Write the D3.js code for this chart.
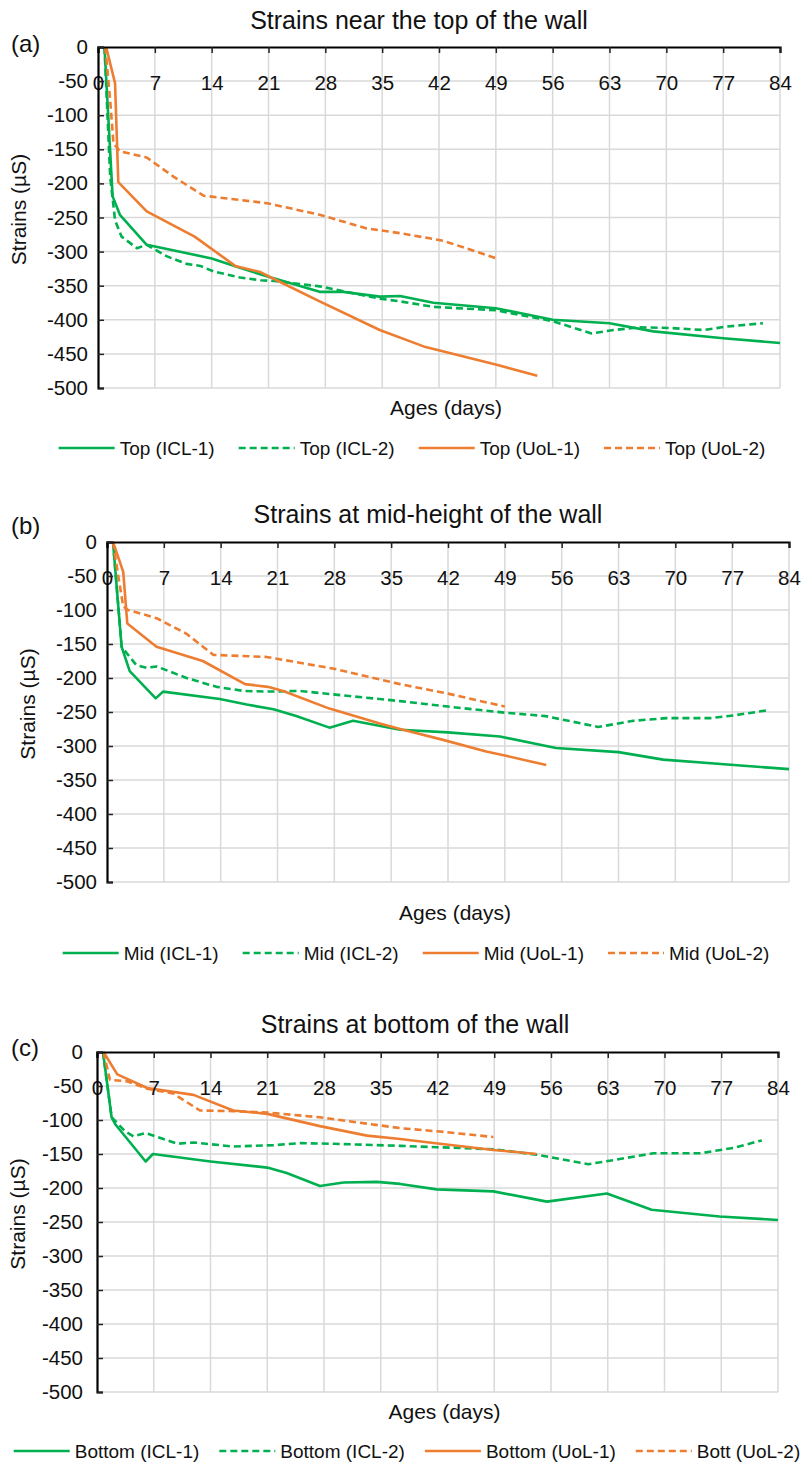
<!DOCTYPE html>
<html>
<head>
<meta charset="utf-8">
<script src="https://cdn.jsdelivr.net/npm/d3@7"></script>
<style>
  html, body { margin: 0; padding: 0; background: #fff; }
  svg { display: block; font-family: "Liberation Sans", Arial, Helvetica, sans-serif; }
</style>
</head>
<body>
<svg id="chart" width="805" height="1462"></svg>
<script>
// Axis ticks shared by all three panels
const dayTicks = [0, 7, 14, 21, 28, 35, 42, 49, 56, 63, 70, 77, 84];
const strainTicks = [0, -50, -100, -150, -200, -250, -300, -350, -400, -450, -500];

// Panel titles, tags and legend labels
const panelTitles = ["Strains near the top of the wall", "Strains at mid-height of the wall", "Strains at bottom of the wall"];
const panelTags = ["(a)", "(b)", "(c)"];
const topLabels = ["Top (ICL-1)", "Top (ICL-2)", "Top (UoL-1)", "Top (UoL-2)"];
const midLabels = ["Mid (ICL-1)", "Mid (ICL-2)", "Mid (UoL-1)", "Mid (UoL-2)"];
const bottomLabels = ["Bottom (ICL-1)", "Bottom (ICL-2)", "Bottom (UoL-1)", "Bott (UoL-2)"];

// Strain readings [age in days, strain in µS]
const topICL1 = [[0.8,0],[1.8,-219],[2.7,-246],[6,-290],[14,-310],[17,-322],[21,-337],[27.3,-359],[30.2,-359],[34.7,-366],[37.2,-365],[41.3,-375],[49,-383],[56,-400],[63,-405],[68.4,-417],[77,-427],[84,-434]];
const topICL2 = [[0.8,0],[1.5,-190],[2.1,-254],[2.9,-278],[4.8,-295],[6,-290],[8.5,-307],[10.9,-318],[12.6,-321],[14.2,-329],[17.5,-338],[20,-342],[21.7,-343],[27.3,-351],[30.6,-359],[34.7,-369],[37.2,-373],[41.3,-381],[49,-386],[56,-402],[60.8,-420],[63.5,-415],[66.8,-411],[70.4,-412],[74.6,-415],[77.4,-410],[81.9,-405]];
const topUoL1 = [[1,0],[2.1,-53],[2.5,-198],[6,-241],[11.9,-278],[16.9,-321],[20,-330],[22,-342],[27.3,-373],[34.7,-415],[40.1,-439],[49.1,-466],[54.1,-482]];
const topUoL2 = [[0.9,0],[1.5,-78],[1.9,-141],[2.7,-153],[6,-162],[9.3,-190],[13,-218],[20.8,-229],[27.3,-246],[33.1,-266],[37.2,-273],[42.5,-284],[49.1,-310]];

const midICL1 = [[0.74,0],[1.8,-154],[2.8,-190],[6,-230],[6.9,-220],[13.9,-231],[17.2,-239],[20.5,-246],[23.3,-256],[27.4,-273],[30.3,-263],[36.1,-276],[42,-280],[48.4,-286],[55.3,-303],[63,-309],[68.5,-320],[77.2,-328],[84,-334]];
const midICL2 = [[0.74,0],[1.8,-154],[3.6,-181],[4.9,-185],[6.1,-183],[9.8,-200],[13.5,-213],[16.8,-219],[19.6,-220],[23.7,-219],[27.8,-224],[36.1,-234],[42,-242],[49,-251],[54,-256],[60.5,-272],[64.8,-263],[68.9,-259],[74.3,-259],[77.2,-255],[81.6,-247]];
const midUoL1 = [[0.74,0],[2,-44],[2.5,-120],[6.1,-154],[11.8,-175],[17,-209],[19.8,-213],[21.7,-219],[27.4,-245],[33.6,-267],[36.1,-275],[41.4,-291],[46.7,-308],[49,-314],[54.1,-328]];
const midUoL2 = [[0.74,0],[1.4,-51],[2,-95],[2.6,-100],[6.1,-112],[9.8,-135],[13.1,-166],[19.6,-169],[27.8,-186],[36.1,-209],[42,-223],[49,-242]];

const botICL1 = [[0.74,0],[1.8,-96],[2.3,-107],[6,-161],[6.9,-150],[14,-161],[21,-170],[23.4,-178],[27.5,-197],[30.4,-192],[34.5,-191],[37.4,-194],[41.9,-202],[48.9,-205],[55.5,-220],[62.9,-208],[68.4,-232],[76.8,-242],[84,-247]];
const botICL2 = [[0.74,0],[1.8,-96],[3.5,-117],[4.5,-124],[6,-119],[9.9,-135],[11.9,-133],[16.8,-139],[21.8,-137],[25.1,-134],[29.2,-135],[37.4,-138],[41.9,-140],[48.9,-143],[54.2,-151],[60.6,-165],[63.7,-159],[68.6,-149],[74.4,-149],[78.5,-141],[82,-130]];
const botUoL1 = [[0.8,0],[2.5,-33],[6.2,-53],[11.9,-63],[16.8,-86],[21,-91],[27.5,-109],[33.3,-123],[37.4,-128],[42.3,-135],[48.9,-144],[54.2,-150]];
const botUoL2 = [[0.8,0],[1.6,-41],[3.7,-43],[6.2,-54],[9.4,-61],[12.7,-86],[16.8,-87],[21,-89],[27.5,-96],[37.4,-112],[42.3,-117],[48.9,-125]];

// Line styling for the four series (ICL solid/dashed green, UoL solid/dashed orange)
const seriesStyle = [
  { color: "#00B050", dash: null },
  { color: "#00B050", dash: "7,4" },
  { color: "#ED7D31", dash: null },
  { color: "#ED7D31", dash: "7,4" }
];

// Panel placement on the page
const panels = [
  { series: [topICL1, topICL2, topUoL1, topUoL2], labels: topLabels,
    left: 98, top: 47, width: 682, height: 341,
    titleX: 419, titleY: 29, tagY: 52, yTitleX: 19, yLabelGap: 10,
    xTitleY: 415, legendY: 448, legendCx: 412, legendGap: 24 },
  { series: [midICL1, midICL2, midUoL1, midUoL2], labels: midLabels,
    left: 107, top: 542, width: 682, height: 340,
    titleX: 428, titleY: 523, tagY: 534, yTitleX: 28, yLabelGap: 10,
    xTitleY: 920, legendY: 953, legendCx: 416, legendGap: 24 },
  { series: [botICL1, botICL2, botUoL1, botUoL2], labels: bottomLabels,
    left: 97, top: 1052, width: 681, height: 340,
    titleX: 415, titleY: 1033, tagY: 1056, yTitleX: 18, yLabelGap: 14,
    xTitleY: 1419, legendY: 1451, legendCx: 407, legendGap: 20 }
];

// plain hyphen-minus labels
const plain = d => String(d);

const svg = d3.select("#chart");
svg.append("rect").attr("width", 805).attr("height", 1462).attr("fill", "#fff");

panels.forEach((p, i) => {
  const x = d3.scaleLinear().domain([0, 84]).range([p.left, p.left + p.width]);
  const y = d3.scaleLinear().domain([0, -500]).range([p.top, p.top + p.height]);
  const g = svg.append("g");

  // grid
  g.append("g").selectAll("line").data(dayTicks.slice(1)).join("line")
    .attr("x1", d => x(d)).attr("x2", d => x(d))
    .attr("y1", p.top).attr("y2", p.top + p.height)
    .attr("stroke", "#d9d9d9").attr("stroke-width", 1.5);
  g.append("g").selectAll("line").data(strainTicks.slice(1)).join("line")
    .attr("x1", p.left).attr("x2", p.left + p.width)
    .attr("y1", d => y(d)).attr("y2", d => y(d))
    .attr("stroke", "#d9d9d9").attr("stroke-width", 1.5);

  // series lines
  const line = d3.line().x(d => x(d[0])).y(d => y(d[1]));
  p.series.forEach((s, k) => {
    g.append("path").datum(s)
      .attr("d", line)
      .attr("fill", "none")
      .attr("stroke", seriesStyle[k].color)
      .attr("stroke-width", 2.6)
      .attr("stroke-linejoin", "round")
      .attr("stroke-dasharray", seriesStyle[k].dash);
  });

  // top x axis (zero line) with ticks pointing into the plot
  const xAxis = d3.axisBottom(x).tickValues(dayTicks).tickSize(6).tickPadding(22).tickFormat(plain);
  const xa = g.append("g").attr("transform", `translate(0,${p.top})`).call(xAxis);
  xa.select(".domain").attr("stroke", "#000").attr("stroke-width", 2.2);
  xa.selectAll(".tick line").attr("stroke", "#222").attr("stroke-width", 1.5);
  xa.selectAll(".tick text").attr("font-size", 20.5).attr("fill", "#111")
    .attr("font-family", "'Liberation Sans', Arial, sans-serif");

  // left y axis
  const yAxis = d3.axisLeft(y).tickValues(strainTicks).tickSize(-6).tickPadding(p.yLabelGap).tickFormat(plain);
  const ya = g.append("g").attr("transform", `translate(${p.left},0)`).call(yAxis);
  ya.select(".domain").attr("stroke", "#000").attr("stroke-width", 2.2);
  ya.selectAll(".tick line").attr("stroke", "#222").attr("stroke-width", 1.5);
  ya.selectAll(".tick text").attr("font-size", 20.5).attr("fill", "#111")
    .attr("font-family", "'Liberation Sans', Arial, sans-serif");

  // titles
  svg.append("text").attr("x", p.titleX).attr("y", p.titleY)
    .attr("text-anchor", "middle").attr("font-size", 25).attr("fill", "#111")
    .text(panelTitles[i]);
  svg.append("text").attr("x", 11).attr("y", p.tagY)
    .attr("font-size", 24).attr("fill", "#111").text(panelTags[i]);
  svg.append("text")
    .attr("transform", `translate(${p.yTitleX + 7},${p.top + p.height / 2 - 8}) rotate(-90)`)
    .attr("text-anchor", "middle").attr("font-size", 21).attr("fill", "#111")
    .text("Strains (µS)");
  svg.append("text").attr("x", p.left + p.width / 2 + 7).attr("y", p.xTitleY)
    .attr("text-anchor", "middle").attr("font-size", 21).attr("fill", "#111")
    .text("Ages (days)");

  // legend
  const lg = svg.append("g");
  const gap = p.legendGap, lineW = 56, pad = 5;
  const items = p.labels.map((lab, k) => {
    const t = lg.append("text").attr("font-size", 19).attr("fill", "#111").text(lab);
    return { t, w: t.node().getComputedTextLength(), k };
  });
  const total = d3.sum(items, it => it.w + lineW + pad) + gap * (items.length - 1);
  let cx = p.legendCx - total / 2;
  items.forEach(it => {
    lg.append("line")
      .attr("x1", cx).attr("x2", cx + lineW)
      .attr("y1", p.legendY).attr("y2", p.legendY)
      .attr("stroke", seriesStyle[it.k].color).attr("stroke-width", 2.6)
      .attr("stroke-dasharray", seriesStyle[it.k].dash);
    it.t.attr("x", cx + lineW + pad).attr("y", p.legendY + 6.5);
    cx += lineW + pad + it.w + gap;
  });
});
</script>
</body>
</html>
